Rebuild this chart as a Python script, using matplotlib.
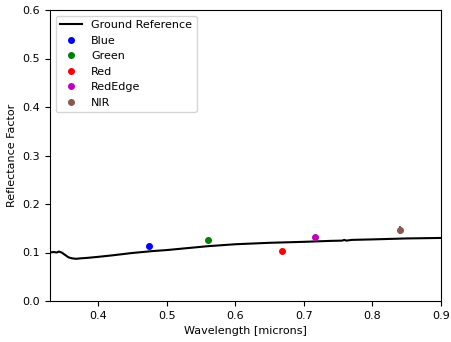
import matplotlib
matplotlib.use("Agg")
import matplotlib.pyplot as plt

# ground reference spectrum
ref_wl = [0.330, 0.335, 0.340, 0.343, 0.347, 0.352, 0.357, 0.362, 0.368,
          0.375, 0.385, 0.400, 0.420, 0.450, 0.480, 0.500, 0.530, 0.560,
          0.600, 0.650, 0.700, 0.740, 0.756, 0.759, 0.762, 0.770, 0.800,
          0.850, 0.900]
ref_rf = [0.100, 0.101, 0.100, 0.102, 0.100, 0.095, 0.090, 0.088, 0.087,
          0.088, 0.089, 0.091, 0.094, 0.099, 0.103, 0.105, 0.109, 0.113,
          0.117, 0.120, 0.122, 0.124, 0.1245, 0.126, 0.1245, 0.126, 0.127,
          0.129, 0.130]

bands = ["Blue", "Green", "Red", "RedEdge", "NIR"]
band_wl = [0.475, 0.560, 0.668, 0.717, 0.840]
band_rf = [0.113, 0.126, 0.103, 0.132, 0.146]
band_err = [0.001, 0.001, 0.001, 0.001, 0.008]
band_colors = ["b", "g", "r", "m", "C5"]

fig = plt.figure(figsize=(4.51, 3.42), dpi=100)
ax = fig.add_axes([50 / 451, 41 / 342, 391 / 451, 291 / 342])

ax.plot(ref_wl, ref_rf, "k-", lw=1.5, label="Ground Reference")
for name, wl, rf, err, c in zip(bands, band_wl, band_rf, band_err, band_colors):
    ax.errorbar(wl, rf, yerr=err, fmt="none", ecolor=c, lw=1.5, capsize=0)
    ax.plot(wl, rf, "o", ms=4, color=c, label=name)

ax.set_xlim(0.33, 0.9)
ax.set_ylim(0.0, 0.6)
ax.set_xticks([0.4, 0.5, 0.6, 0.7, 0.8, 0.9])
ax.set_yticks([0.0, 0.1, 0.2, 0.3, 0.4, 0.5, 0.6])
ax.tick_params(labelsize=8)
ax.set_xlabel("Wavelength [microns]", fontsize=8)
ax.set_ylabel("Reflectance Factor", fontsize=8)
ax.legend(loc="upper left", fontsize=8)

fig.savefig("out.png", dpi=100)
